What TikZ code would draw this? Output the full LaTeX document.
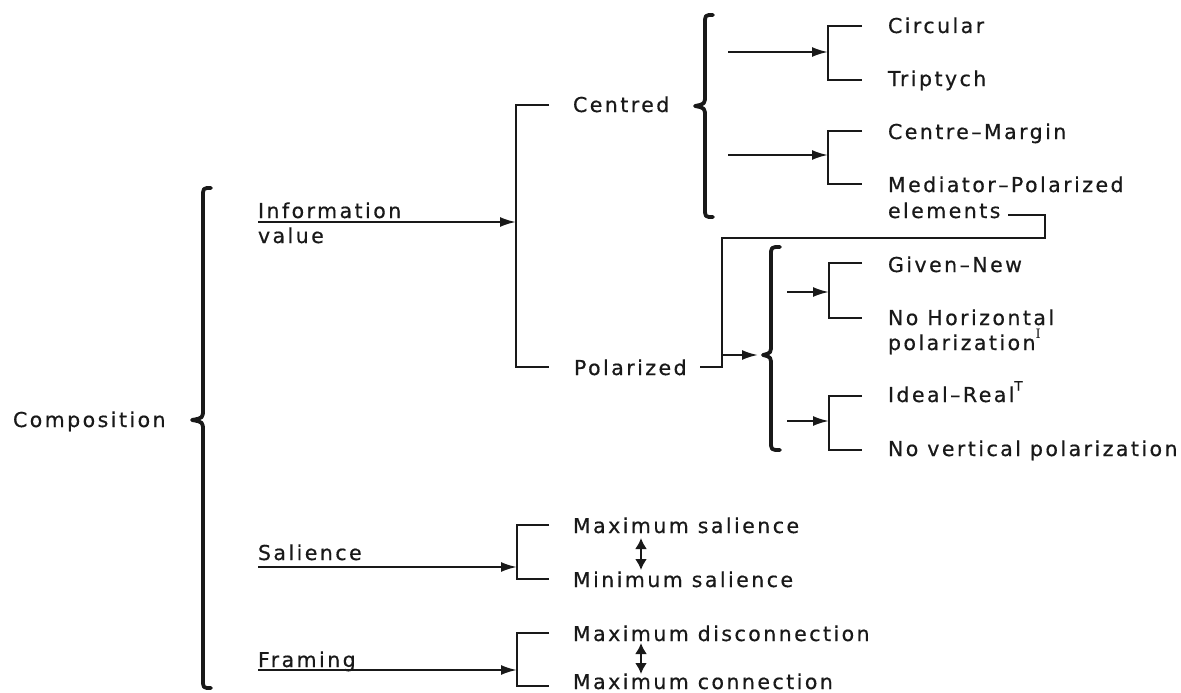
\documentclass[tikz,border=0pt]{standalone}
\usepackage{fontspec}
\setmainfont{DejaVu Sans}[LetterSpace=12,FakeBold=0.6]
\newfontfamily\supserif{DejaVu Serif}
\usetikzlibrary{arrows.meta}
\newcommand\bracedraw[6]{% stem x, hook x, tip x, top y, mid y, bottom y
  \draw[bracestyle] (#2,#4) .. controls (#1,#4) .. (#1,#4+9) -- (#1,#5-11)
    .. controls (#1,#5-2) .. (#3,#5) .. controls (#1,#5+2) .. (#1,#5+11)
    -- (#1,#6-9) .. controls (#1,#6) .. (#2,#6);}
\newcommand\supmark[1]{\raisebox{0.55em}{\fontsize{13}{13}\selectfont #1}}
\begin{document}
\begin{tikzpicture}[x=1pt,y=-1pt,
  lbl/.style={anchor=base west,inner sep=0pt,outer sep=0pt,text=black!90,font=\fontsize{20.5}{24}\selectfont},
  wire/.style={line width=2.2pt,line cap=butt,line join=miter,draw=black!90},
  arr/.style={wire,-{Latex[length=16pt,width=10pt]}},
  darr/.style={line width=2.4pt,draw=black!90,{Latex[length=11pt,width=12pt]}-{Latex[length=11pt,width=12pt]}},
  bracestyle/.style={line width=3.8pt,line cap=round,line join=round,draw=black!90}]
\useasboundingbox (0,0) rectangle (1181,693);
% labels
\node[lbl] (comp) at (13,427) {Composition};
\node[lbl] (info) at (258,218) {Information};
\node[lbl] (infob) at (258,243) {value};
\node[lbl] (sal) at (258,560) {Salience};
\node[lbl] (fram) at (258,667) {Framing};
\node[lbl] (cent) at (573,112) {Centred};
\node[lbl] (pol) at (574,375) {Polarized};
\node[lbl] (circ) at (888,33) {Circular};
\node[lbl] (trip) at (888,86) {Triptych};
\node[lbl] (cm) at (888,139) {Centre–Margin};
\node[lbl] (med) at (888,192) {Mediator–Polarized};
\node[lbl] (medb) at (888,218) {elements};
\node[lbl] (gn) at (888,272) {Given–New};
\node[lbl] (nh) at (888,325) {No Horizontal};
\node[lbl] (nhb) at (888,350) {polarization\supmark{\supserif I}};
\node[lbl] (ir) at (888,402) {Ideal–Real\supmark{T}};
\node[lbl] (nv) at (888,456) {No vertical polarization};
\node[lbl] (maxs) at (573,533) {Maximum salience};
\node[lbl] (mins) at (573,587) {Minimum salience};
\node[lbl] (maxd) at (573,641) {Maximum disconnection};
\node[lbl] (maxc) at (573,689) {Maximum connection};
% braces
\bracedraw{203}{211}{192}{188}{420}{688}
\bracedraw{705}{713}{695}{15}{106}{217}
\bracedraw{771}{780}{763}{247}{355}{450}
% coordinates
\coordinate (infoS) at (258,222);
\coordinate (infoE) at (516,222);
\coordinate (aT) at (549,105);
\coordinate (aB) at (549,367);
\coordinate (salS) at (258,567);
\coordinate (salE) at (517,567);
\coordinate (sT) at (549,525);
\coordinate (sB) at (549,579);
\coordinate (frS) at (258,670);
\coordinate (frE) at (517,670);
\coordinate (fT) at (549,633);
\coordinate (fB) at (549,686);
\coordinate (b1S) at (728,52);
\coordinate (b1E) at (828,52);
\coordinate (b1T) at (862,26);
\coordinate (b1B) at (862,80);
\coordinate (b2S) at (728,155);
\coordinate (b2E) at (828,155);
\coordinate (b2T) at (862,131);
\coordinate (b2B) at (862,184);
\coordinate (c1S) at (787,292);
\coordinate (c1E) at (829,292);
\coordinate (c1T) at (862,263);
\coordinate (c1B) at (862,318);
\coordinate (c2S) at (787,421);
\coordinate (c2E) at (829,421);
\coordinate (c2T) at (862,396);
\coordinate (c2B) at (862,450);
\coordinate (polS) at (700,367);
\coordinate (polJ) at (722,367);
\coordinate (polA) at (722,355);
\coordinate (polT) at (758,355);
\coordinate (elS) at (1008,215);
\coordinate (elC) at (1045,215);
% top-level connectors
\draw[arr] (infoS) -- (infoE);
\draw[arr] (salS) -- (salE);
\draw[arr] (frS) -- (frE);
% brackets
\draw[wire] (aT) -- (infoE |- aT) -- (infoE |- aB) -- (aB);
\draw[wire] (sT) -- (salE |- sT) -- (salE |- sB) -- (sB);
\draw[wire] (fT) -- (frE |- fT) -- (frE |- fB) -- (fB);
\draw[arr] (b1S) -- (b1E);
\draw[wire] (b1T) -- (b1E |- b1T) -- (b1E |- b1B) -- (b1B);
\draw[arr] (b2S) -- (b2E);
\draw[wire] (b2T) -- (b2E |- b2T) -- (b2E |- b2B) -- (b2B);
\draw[arr] (c1S) -- (c1E);
\draw[wire] (c1T) -- (c1E |- c1T) -- (c1E |- c1B) -- (c1B);
\draw[arr] (c2S) -- (c2E);
\draw[wire] (c2T) -- (c2E |- c2T) -- (c2E |- c2B) -- (c2B);
% polarized link to mediator elements
\draw[wire] (polS) -- (polJ) -- (polJ |- 0,238) -- (elC |- 0,238) -- (elC) -- (elS);
\draw[arr] (polA) -- (polT);
% double arrows
\coordinate (d1a) at (641,538);
\coordinate (d1b) at (641,570);
\coordinate (d2a) at (641,643);
\coordinate (d2b) at (641,674);
\draw[darr] (d1a) -- (d1b);
\draw[darr] (d2a) -- (d2b);
\end{tikzpicture}
\end{document}
